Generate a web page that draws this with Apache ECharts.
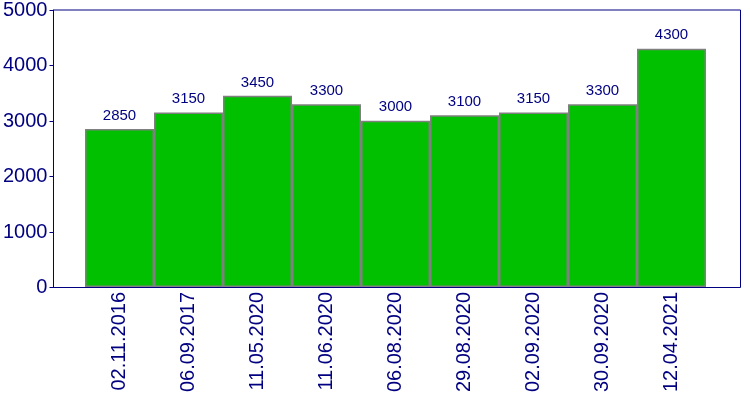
<!DOCTYPE html>
<html>
<head>
<meta charset="utf-8">
<script src="https://cdn.jsdelivr.net/npm/echarts@6/dist/echarts.min.js"></script>
<style>
html,body{margin:0;padding:0;background:#fff;}
#chart{width:750px;height:400px;}
</style>
</head>
<body>
<div id="chart"></div>
<script>
// dates and values
var dates = ['02.11.2016', '06.09.2017', '11.05.2020', '11.06.2020', '06.08.2020',
	'29.08.2020', '02.09.2020', '30.09.2020', '12.04.2021'];
var values = [2850, 3150, 3450, 3300, 3000, 3100, 3150, 3300, 4300];
var yTicks = [0, 1000, 2000, 3000, 4000, 5000];

var navy = '#000080';
var font = 'Liberation Sans, Arial, sans-serif';

var chart = echarts.init(document.getElementById('chart'));
var option = {
	animation: false,
	backgroundColor: '#fff',
	grid: [
		// outer frame with the y axis
		{left: 49.5, right: 9.5, top: 9.5, bottom: 112.5, show: true, borderColor: navy, borderWidth: 1},
		// bars sit inside with half a slot free on each side
		{left: 85, right: 44, top: 10, bottom: 113}
	],
	xAxis: [
		{gridIndex: 0, type: 'value', show: false},
		{
			gridIndex: 1,
			type: 'category',
			data: dates,
			axisLine: {show: false},
			axisTick: {show: false},
			axisLabel: {
				rotate: 90,
				margin: 5,
				color: navy,
				fontSize: 20,
				fontFamily: font,
				interval: 0
			}
		}
	],
	yAxis: [
		{
			gridIndex: 0,
			type: 'value',
			min: yTicks[0],
			max: yTicks[yTicks.length - 1],
			interval: 1000,
			splitLine: {show: false},
			axisLine: {show: true, lineStyle: {color: navy, width: 1}},
			axisTick: {show: true, length: 4, lineStyle: {color: navy}},
			axisLabel: {
				color: navy, fontSize: 20, fontFamily: font, margin: 6,
				formatter: function (v) { return String(v); }
			}
		},
		{
			gridIndex: 1,
			type: 'value',
			min: yTicks[0],
			max: yTicks[yTicks.length - 1],
			show: false
		}
	],
	series: [{
		type: 'bar',
		xAxisIndex: 1,
		yAxisIndex: 1,
		data: values,
		barCategoryGap: 0,
		itemStyle: {color: '#00c000', borderColor: '#808080', borderWidth: 1.5},
		label: {
			show: true,
			position: 'top',
			distance: 6,
			color: navy,
			fontSize: 15,
			fontFamily: font
		}
	}]
};
chart.setOption(option);
</script>
</body>
</html>
